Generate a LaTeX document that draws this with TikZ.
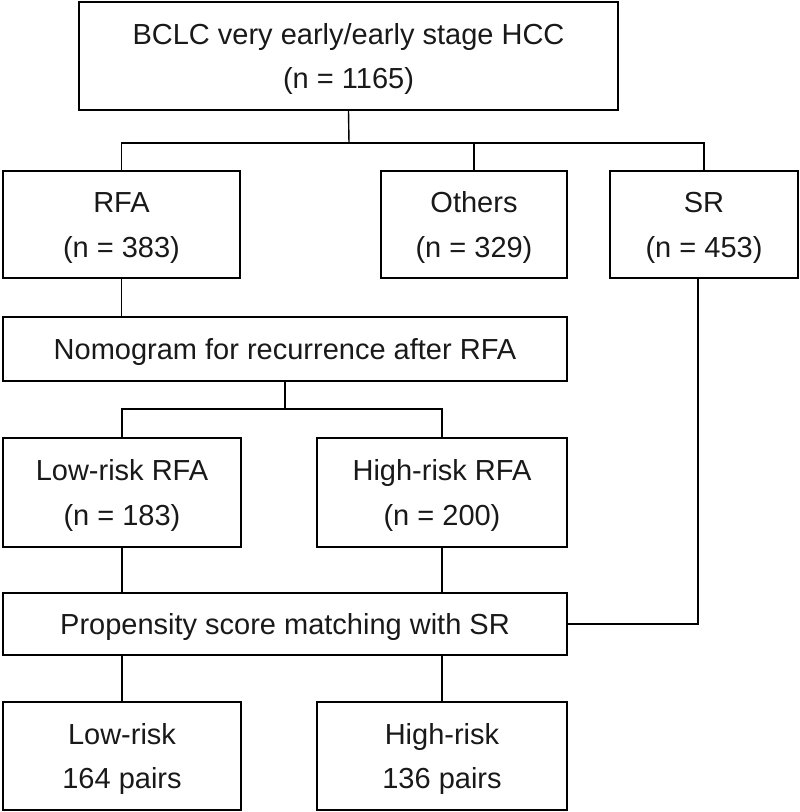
\documentclass[tikz,border=0pt]{standalone}
\usepackage{fontspec}
\setmainfont{Liberation Sans}
\newcommand{\twoline}[2]{\begin{tabular}{@{}c@{}}\rule{0pt}{34.5pt}#1\\#2\end{tabular}}
\newcommand{\oneline}[1]{\rule{0pt}{26.5pt}#1}
\begin{document}
\begin{tikzpicture}[x=1pt,y=-1pt,
  box/.style={draw=black,line width=1.4pt,inner sep=0pt,
    font=\fontsize{29}{44.5}\selectfont,text=black!90},
  link/.style={draw=black,line width=1.4pt}]
\useasboundingbox (0,0) rectangle (800,812);
\node[box,minimum width=539pt,minimum height=108pt] (top) at (348.5,56) {\twoline{BCLC very early/early stage HCC}{(n = 1165)}};
\node[box,minimum width=237pt,minimum height=107pt] (rfa) at (121.5,224.5) {\twoline{RFA}{(n = 383)}};
\node[box,minimum width=186pt,minimum height=107pt] (others) at (474,224.5) {\twoline{Others}{(n = 329)}};
\node[box,minimum width=188pt,minimum height=107pt] (sr) at (704,224.5) {\twoline{SR}{(n = 453)}};
\node[box,minimum width=564pt,minimum height=64pt] (nomo) at (285,349) {\oneline{Nomogram for recurrence after RFA}};
\node[box,minimum width=238pt,minimum height=109pt] (lowrfa) at (122,492.5) {\twoline{Low-risk RFA}{(n = 183)}};
\node[box,minimum width=250pt,minimum height=109pt] (highrfa) at (442,492.5) {\twoline{High-risk RFA}{(n = 200)}};
\node[box,minimum width=564pt,minimum height=62pt] (prop) at (285,624) {\oneline{Propensity score matching with SR}};
\node[box,minimum width=238pt,minimum height=108pt] (lowpair) at (122,756) {\twoline{Low-risk}{164 pairs}};
\node[box,minimum width=250pt,minimum height=108pt] (highpair) at (442,756) {\twoline{High-risk}{136 pairs}};
\coordinate (j1) at (349,143);
\coordinate (j2) at (285,409);
\coordinate (srout) at (698,278);
\draw[link] (top.south) -- (j1);
\draw[link] (rfa.north) -- (rfa.north |- j1) -- (sr.north |- j1) -- (sr.north);
\draw[link] (others.north) -- (others.north |- j1);
\draw[link] (rfa.south) -- (rfa.south |- nomo.north);
\draw[link] (nomo.south) -- (j2);
\draw[link] (lowrfa.north) -- (lowrfa.north |- j2) -- (highrfa.north |- j2) -- (highrfa.north);
\draw[link] (lowrfa.south) -- (lowrfa.south |- prop.north);
\draw[link] (highrfa.south) -- (highrfa.south |- prop.north);
\draw[link] (srout) |- (prop.east);
\draw[link] (lowpair.north |- prop.south) -- (lowpair.north);
\draw[link] (highpair.north |- prop.south) -- (highpair.north);
\end{tikzpicture}
\end{document}
